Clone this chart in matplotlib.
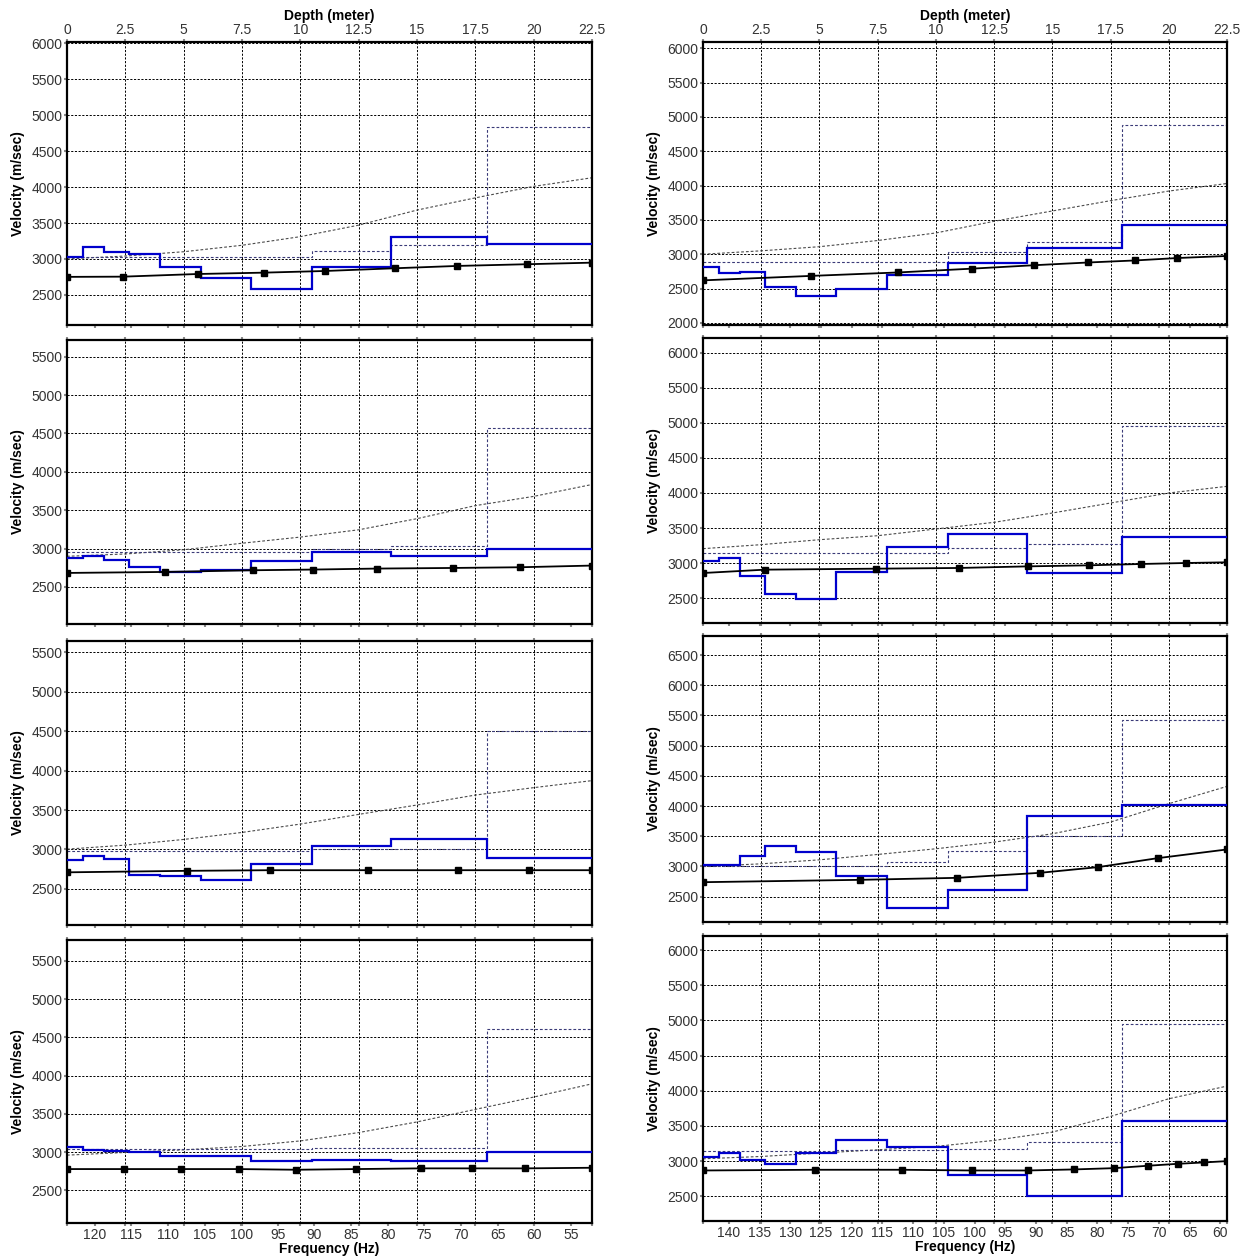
import numpy as np
import matplotlib
matplotlib.use("Agg")
import matplotlib.pyplot as plt

plt.rcParams['font.family'] = ['Liberation Sans', 'DejaVu Sans']

# layer bottoms (m), shared by every inverted profile
LAYER_BOTTOMS = [0.7, 1.6, 2.67, 4.0, 5.73, 7.88, 10.5, 13.9, 18.0]
MAX_DEPTH = 22.5
CURVE_DEPTHS = [0, 2.5, 5, 7.5, 10, 12.5, 15, 17.5, 20, 22.5]

# ---- left column ----
L1_VS = [3020, 3160, 3095, 3070, 2893, 2731, 2581, 2893, 3312, 3210]
L1_VLIM = [3020, 3020, 3020, 3020, 3020, 3020, 3020, 3110, 3190, 4830]
L1_CURVE = [3000, 3040, 3100, 3190, 3310, 3470, 3680, 3850, 4010, 4130]
L1_PTS_D = [0, 2.4, 5.6, 8.45, 11.06, 14.06, 16.7, 19.7, 22.5]
L1_PTS_V = [2750, 2753, 2790, 2809, 2832, 2870, 2902, 2926, 2948]

L2_VS = [2878, 2900, 2857, 2761, 2696, 2718, 2835, 2957, 2900, 3000]
L2_VLIM = [2952, 2952, 2952, 2952, 2952, 2952, 2952, 3000, 3030, 4567]
L2_CURVE = [2900, 2930, 2985, 3070, 3150, 3245, 3390, 3560, 3680, 3835]
L2_PTS_D = [0, 4.2, 7.95, 10.54, 13.3, 16.55, 19.4, 22.5]
L2_PTS_V = [2683, 2696, 2718, 2727, 2740, 2748, 2757, 2779]

L3_VS = [2864, 2915, 2873, 2682, 2665, 2610, 2822, 3047, 3127, 2886]
L3_VLIM = [2980, 2980, 2980, 2980, 2980, 2980, 2980, 3010, 3010, 4500]
L3_CURVE = [3004, 3055, 3127, 3216, 3322, 3445, 3564, 3690, 3784, 3873]
L3_PTS_D = [0, 5.13, 8.68, 12.91, 16.77, 19.8, 22.5]
L3_PTS_V = [2710, 2729, 2737, 2737, 2737, 2737, 2737]

L4_VS = [3069, 3026, 3009, 2996, 2952, 2952, 2879, 2900, 2879, 3004]
L4_VLIM = [3045, 3045, 3045, 3045, 3045, 3045, 3045, 3060, 3060, 4610]
L4_CURVE = [2961, 2996, 3030, 3074, 3147, 3256, 3395, 3559, 3720, 3893]
L4_PTS_D = [0, 2.45, 4.9, 7.36, 9.83, 12.4, 15.19, 17.36, 19.63, 22.5]
L4_PTS_V = [2779, 2779, 2779, 2779, 2770, 2779, 2788, 2788, 2788, 2796]

# ---- right column ----
R1_VS = [2815, 2724, 2743, 2530, 2394, 2491, 2695, 2879, 3097, 3426]
R1_VLIM = [2890, 2890, 2890, 2890, 2890, 2890, 2890, 3039, 3184, 4879]
R1_CURVE = [3000, 3050, 3110, 3200, 3310, 3480, 3630, 3780, 3920, 4030]
R1_PTS_D = [0, 4.65, 8.38, 11.53, 14.2, 16.54, 18.57, 20.37, 22.5]
R1_PTS_V = [2620, 2685, 2735, 2790, 2840, 2880, 2910, 2945, 2975]

R2_VS = [3033, 3071, 2810, 2562, 2490, 2871, 3224, 3419, 2857, 3371]
R2_VLIM = [3150, 3150, 3150, 3150, 3150, 3150, 3150, 3215, 3270, 4960]
R2_CURVE = [3205, 3262, 3333, 3390, 3486, 3581, 3714, 3857, 4000, 4095]
R2_PTS_D = [0, 2.66, 7.42, 10.98, 13.96, 16.59, 18.81, 20.73, 22.5]
R2_PTS_V = [2857, 2905, 2919, 2929, 2952, 2967, 2986, 3000, 3010]

R3_VS = [3017, 3017, 3171, 3331, 3238, 2840, 2315, 2613, 3834, 4022]
R3_VLIM = [3010, 3010, 3010, 3010, 3010, 3010, 3080, 3250, 3500, 5420]
R3_CURVE = [3000, 3044, 3110, 3199, 3293, 3403, 3541, 3735, 4039, 4326]
R3_PTS_D = [0, 6.74, 10.91, 14.47, 16.96, 19.53, 22.5]
R3_PTS_V = [2740, 2779, 2812, 2895, 2989, 3138, 3282]

R4_VS = [3057, 3118, 3009, 2953, 3114, 3294, 3199, 2806, 2507, 3564]
R4_VLIM = [3140, 3140, 3140, 3140, 3140, 3160, 3160, 3170, 3270, 4945]
R4_CURVE = [3033, 3066, 3114, 3161, 3209, 3294, 3412, 3635, 3886, 4066]
R4_PTS_D = [0, 4.81, 8.53, 11.53, 13.96, 15.95, 17.65, 19.1, 20.4, 21.5, 22.5]
R4_PTS_V = [2867, 2877, 2877, 2867, 2867, 2882, 2900, 2934, 2962, 2981, 3000]

# velocity ranges and tick values of each panel
L_YLIMS = [(2080, 6020), (2018, 5717), (2042, 5644), (2074, 5773)]
R_YLIMS = [(1970, 6090), (2143, 6214), (2081, 6815), (2149, 6199)]
L_YTICKS = [range(2500, 6001, 500), range(2500, 5501, 500),
            range(2500, 5501, 500), range(2500, 5501, 500)]
R_YTICKS = [range(2000, 6001, 500), range(2500, 6001, 500),
            range(2500, 6501, 500), range(2500, 6001, 500)]

# frequency scale under each column (value at depth 0 and at max depth)
L_FREQ_RANGE = (123.8, 52.1)
R_FREQ_RANGE = (144.2, 58.9)
L_FREQ_TICKS = list(range(120, 54, -5))
R_FREQ_TICKS = list(range(140, 59, -5))

DEPTH_TICKS = [0, 2.5, 5, 7.5, 10, 12.5, 15, 17.5, 20, 22.5]
DEPTH_LABELS = ['0', '2.5', '5', '7.5', '10', '12.5', '15', '17.5', '20', '22.5']

left_panels = [
    (L1_VS, L1_VLIM, L1_CURVE, L1_PTS_D, L1_PTS_V),
    (L2_VS, L2_VLIM, L2_CURVE, L2_PTS_D, L2_PTS_V),
    (L3_VS, L3_VLIM, L3_CURVE, L3_PTS_D, L3_PTS_V),
    (L4_VS, L4_VLIM, L4_CURVE, L4_PTS_D, L4_PTS_V),
]
right_panels = [
    (R1_VS, R1_VLIM, R1_CURVE, R1_PTS_D, R1_PTS_V),
    (R2_VS, R2_VLIM, R2_CURVE, R2_PTS_D, R2_PTS_V),
    (R3_VS, R3_VLIM, R3_CURVE, R3_PTS_D, R3_PTS_V),
    (R4_VS, R4_VLIM, R4_CURVE, R4_PTS_D, R4_PTS_V),
]

W, H = 1247, 1258
fig = plt.figure(figsize=(W / 100, H / 100), dpi=100)

TICK_GREY = '#8a8a8a'
TEXT_GREY = '#333333'
GRID_DASH = (0, (2.2, 1.6))


def px_rect(x0, y0, x1, y1):
    return [x0 / W, 1 - y1 / H, (x1 - x0) / W, (y1 - y0) / H]


def draw_panel(rect, data, ylim, yticks, freq_range, freq_ticks, top_row, bottom_row):
    vs, vlim, curve, pts_d, pts_v = data
    ax = fig.add_axes(rect)
    edges = [0] + LAYER_BOTTOMS + [MAX_DEPTH]

    ax.plot(CURVE_DEPTHS, curve, color='#4a4a4a', lw=0.8, ls=(0, (2.5, 1.8)), zorder=2)
    ax.stairs(vlim, edges, baseline=None, color='#3a3a78', lw=0.8,
              ls=(0, (2.5, 1.8)), zorder=2)
    ax.stairs(vs, edges, baseline=None, color='#0000cc', lw=1.6, zorder=3)
    ax.plot(pts_d, pts_v, color='black', lw=1.3, marker='s', ms=4.2, zorder=4)

    ax.set_xlim(0, MAX_DEPTH)
    ax.set_ylim(*ylim)
    ax.set_xticks(DEPTH_TICKS)
    ax.set_yticks(list(yticks))
    ax.grid(True, color='black', lw=0.7, ls=GRID_DASH)
    ax.set_axisbelow(True)

    ax.tick_params(axis='both', direction='out', length=2.5, width=1.5,
                   color=TICK_GREY, labelsize=10, labelcolor=TEXT_GREY, pad=1)
    ax.tick_params(axis='x', top=True, bottom=True, labeltop=top_row, labelbottom=False)
    if top_row:
        ax.set_xticklabels(DEPTH_LABELS)
        ax.xaxis.set_label_position('top')
        ax.set_xlabel('Depth (meter)', fontsize=10, fontweight='bold', labelpad=2)
    ax.set_ylabel('Velocity (m/sec)', fontsize=10, fontweight='bold', labelpad=4)

    for s in ax.spines.values():
        s.set_linewidth(1.6)
        s.set_color('black')

    # frequency scale sharing the bottom edge
    f0, f1 = freq_range
    d2f = lambda d: f0 + (f1 - f0) * np.asarray(d) / MAX_DEPTH
    f2d = lambda f: (np.asarray(f) - f0) / (f1 - f0) * MAX_DEPTH
    sec = ax.secondary_xaxis('bottom', functions=(d2f, f2d))
    sec.set_xticks(freq_ticks)
    sec.tick_params(direction='out', length=2.5, width=1.5, color=TICK_GREY,
                    labelsize=10, labelcolor=TEXT_GREY, pad=1)
    sec.spines['bottom'].set_visible(False)
    if bottom_row:
        sec.set_xlabel('Frequency (Hz)', fontsize=10, fontweight='bold', labelpad=0)
    else:
        sec.set_xticklabels([])
    return ax


left_rows = [(42, 325), (340, 624), (641, 925), (940, 1223)]
right_rows = [(42, 325), (338, 623), (636, 922), (936, 1221)]

for i, (y0, y1) in enumerate(left_rows):
    draw_panel(px_rect(67, y0, 592, y1), left_panels[i], L_YLIMS[i], L_YTICKS[i],
               L_FREQ_RANGE, L_FREQ_TICKS, i == 0, i == 3)

for i, (y0, y1) in enumerate(right_rows):
    draw_panel(px_rect(703, y0, 1227, y1), right_panels[i], R_YLIMS[i], R_YTICKS[i],
               R_FREQ_RANGE, R_FREQ_TICKS, i == 0, i == 3)

fig.savefig('out.png', dpi=100)
